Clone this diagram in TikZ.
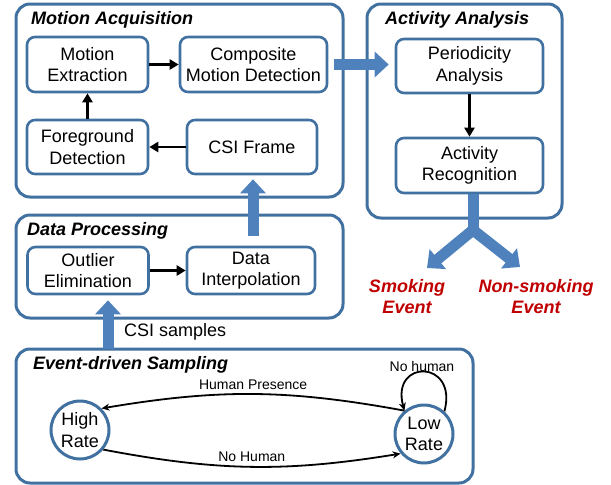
\documentclass[tikz,border=0pt]{standalone}
\usepackage{fontspec}
\setmainfont{Liberation Sans}
\usetikzlibrary{arrows.meta}
\definecolor{bordblue}{RGB}{65,113,160}
\definecolor{arrblue}{RGB}{79,129,189}
\definecolor{evred}{RGB}{192,0,0}
\begin{document}
\begin{tikzpicture}[x=1pt,y=-1pt,
  font=\fontsize{18}{21.6}\selectfont,
  outerbox/.style={draw=bordblue, line width=3pt, rounded corners=14pt, inner sep=0pt},
  stepbox/.style={draw=bordblue, line width=2.6pt, rounded corners=8pt, align=center, inner sep=0pt, fill=white},
  statenode/.style={circle, draw=bordblue, line width=3pt, minimum size=58pt, inner sep=0pt, align=center, fill=white},
  boxtitle/.style={font=\fontsize{18}{21.6}\selectfont\bfseries\itshape, anchor=base west, inner sep=0pt},
  evlabel/.style={font=\fontsize{18}{21}\selectfont\bfseries\itshape, text=evred, align=center, inner sep=0pt},
  smalllabel/.style={font=\fontsize{14}{16}\selectfont, inner sep=0pt},
  flowarrow/.style={draw=black, line width=2.5pt, -{Triangle[length=9pt,width=10pt]}},
  statearrow/.style={draw=black, line width=1.8pt, -{Stealth[length=8pt,width=7pt]}},
  bigarrow/.style={draw=arrblue, line width=11pt, -{Triangle[length=14pt,width=25pt]}},
  bigshaft/.style={draw=arrblue, line width=11pt}
]
\useasboundingbox (0,0) rectangle (611,485);

% outer containers
\node[outerbox, minimum width=327pt, minimum height=193pt] (MA) at (179.5,100.5) {};
\node[outerbox, minimum width=195pt, minimum height=214pt] (AA) at (464.5,111) {};
\node[outerbox, minimum width=327pt, minimum height=103pt] (DP) at (179.5,266.5) {};
\node[outerbox, minimum width=457pt, minimum height=134pt] (ES) at (244.5,416) {};

% titles
\node[boxtitle] (tMA) at (31,24) {Motion Acquisition};
\node[boxtitle] (tAA) at (385,24) {Activity Analysis};
\node[boxtitle] (tDP) at (27,235) {Data Processing};
\node[boxtitle] (tES) at (33,369) {Event-driven Sampling};

% inner boxes
\node[stepbox, minimum width=121pt, minimum height=55pt] (ME) at (87.5,64.5) {Motion\\Extraction};
\node[stepbox, minimum width=147pt, minimum height=55pt] (CMD) at (253.5,64.5) {Composite\\Motion Detection};
\node[stepbox, minimum width=121pt, minimum height=54pt] (FD) at (87.5,147) {Foreground\\Detection};
\node[stepbox, minimum width=130pt, minimum height=54pt] (CSI) at (252,147) {CSI Frame};
\node[stepbox, minimum width=147pt, minimum height=54pt] (PA) at (469.5,66) {Periodicity\\Analysis};
\node[stepbox, minimum width=147pt, minimum height=55pt] (AR) at (469.5,165.5) {Activity\\Recognition};
\node[stepbox, minimum width=121pt, minimum height=47pt] (OE) at (88,270.5) {Outlier\\Elimination};
\node[stepbox, minimum width=128pt, minimum height=47pt] (DI) at (251,270.5) {Data\\Interpolation};

% inner flow arrows
\draw[flowarrow] (ME.east) -- (CMD.west);
\draw[flowarrow] (FD.north) -- (ME.south);
\draw[flowarrow] (CSI.west) -- (FD.east);
\draw[flowarrow] (PA.south) -- (AR.north);
\draw[flowarrow] (OE.east) -- (DI.west);

% big blue arrows
\draw[bigarrow] ([xshift=6pt]CMD.east) -- ([xshift=-6pt]CMD.east -| PA.west);
\draw[bigarrow] ([xshift=1pt,yshift=10pt]DI.north -| CSI.south) -- ([xshift=1pt,yshift=-4pt]CSI.south);
\coordinate (csiin) at (108,349);
\draw[bigarrow] (csiin) -- ([xshift=20pt,yshift=-5pt]OE.south);
\node[anchor=west, inner sep=0pt] (csis) at (124,332) {CSI samples};

% fork to events
\coordinate (fork) at (473,236);
\coordinate (forkb) at (473,230);
\coordinate (smk) at (427,268);
\coordinate (nsmk) at (520,267);
\draw[bigshaft] ([xshift=3.5pt]AR.south) -- (fork);
\draw[bigarrow] (forkb) -- (smk);
\draw[bigarrow] (forkb) -- (nsmk);
\node[evlabel] (ev1) at (407,297) {Smoking\\Event};
\node[evlabel] (ev2) at (536,297) {Non-smoking\\Event};

% state machine
\node[statenode] (HR) at (80,430) {High\\Rate};
\node[statenode] (LR) at (424,434) {Low\\Rate};
\draw[statearrow] (LR.130) to[bend right=10] node[smalllabel, above=4pt] (lhp) {Human Presence} (HR.45);
\draw[statearrow] (HR.-40) to[bend right=10] node[smalllabel, above=4pt] (lnh) {No Human} (LR.-140);
\draw[statearrow] (LR.48) .. controls +(14,-52) and +(-14,-52) .. (LR.130);
\node[smalllabel] (lnh2) at (422,366) {No human};
\end{tikzpicture}
\end{document}
